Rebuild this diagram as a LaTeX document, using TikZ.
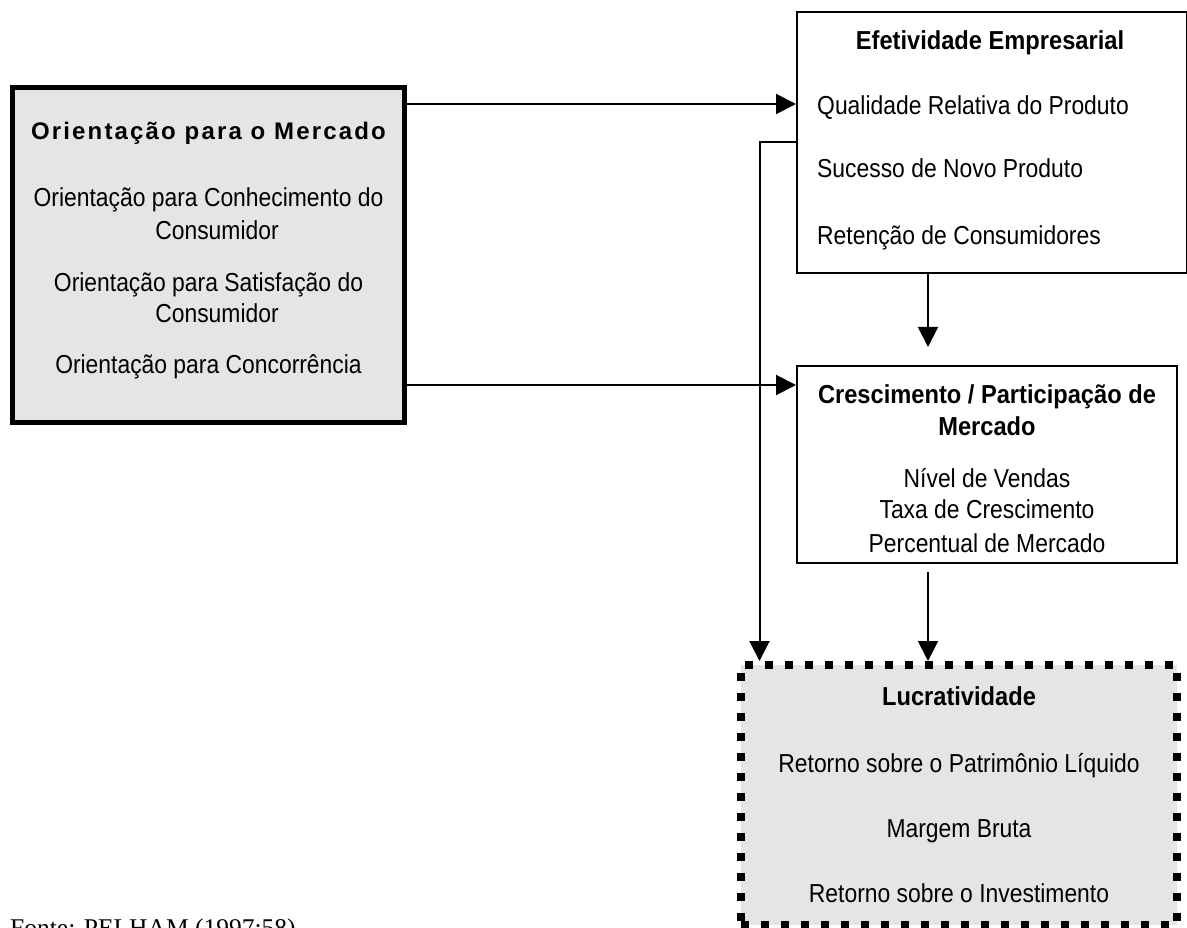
\documentclass[tikz,border=0pt]{standalone}
\usepackage{fontspec}
\setmainfont{Liberation Sans}
\newfontfamily\nar{Liberation Sans}[FakeStretch=0.88]
\newfontfamily\narb{Liberation Sans Bold}[FakeStretch=0.91]
\newfontfamily\spaced{Liberation Sans Bold}[LetterSpace=9]
\newfontfamily\tms{Liberation Serif}
\usetikzlibrary{arrows.meta}
\begin{document}
\begin{tikzpicture}[x=1pt,y=-1pt,
  txt/.style={inner sep=0pt, anchor=base, font=\nar\fontsize{26}{30}\selectfont},
  ltxt/.style={txt, anchor=base west},
  ttl/.style={txt, font=\narb\fontsize{26}{30}\selectfont},
  boxthick/.style={draw, line width=5pt, fill=black!10, inner sep=0pt},
  boxthin/.style={draw, line width=2pt, fill=white, inner sep=0pt},
  boxdash/.style={draw, line width=8pt, dash pattern=on 8pt off 12pt, fill=black!10, inner sep=0pt},
  arr/.style={line width=2pt, -{Triangle[length=20pt,width=20pt]}},
]
\useasboundingbox (0,0) rectangle (1187,928);

% boxes
\node[boxthick, minimum width=392pt, minimum height=335pt] (L) at (208.5,255) {};
\node[boxthin, minimum width=390pt, minimum height=261pt] (E) at (992,142.5) {};
\node[boxthin, minimum width=380pt, minimum height=197pt] (C) at (987,464.5) {};
\node[boxdash, minimum width=436pt, minimum height=260pt] (P) at (959,795) {};

% left box text
\node[txt, font=\spaced\fontsize{24}{28}\selectfont] (Lt) at (208.5,140) {Orientação para o Mercado};
\node[txt] (L1) at (208.5,207) {Orientação para Conhecimento do};
\node[txt] (L2) at (217,240) {Consumidor};
\node[txt] (L3) at (208.5,292) {Orientação para Satisfação do};
\node[txt] (L4) at (217,323) {Consumidor};
\node[txt] (L5) at (208.5,373) {Orientação para Concorrência};

% Efetividade
\node[ttl] (Et) at (990,50) {Efetividade Empresarial};
\node[ltxt] (E1) at (817,115) {Qualidade Relativa do Produto};
\node[ltxt] (E2) at (817,178) {Sucesso de Novo Produto};
\node[ltxt] (E3) at (817,245) {Retenção de Consumidores};

% Crescimento
\node[ttl] (Ct1) at (987,403) {Crescimento / Participação de};
\node[ttl] (Ct2) at (987,435) {Mercado};
\node[txt] (C1) at (987,487) {Nível de Vendas};
\node[txt] (C2) at (987,518) {Taxa de Crescimento};
\node[txt] (C3) at (987,552) {Percentual de Mercado};

% Lucratividade
\node[ttl] (Pt) at (959,705) {Lucratividade};
\node[txt] (P1) at (959,772) {Retorno sobre o Patrimônio Líquido};
\node[txt] (P2) at (959,837) {Margem Bruta};
\node[txt] (P3) at (959,902) {Retorno sobre o Investimento};

% source
\node[inner sep=0pt, anchor=base west, font=\tms\fontsize{25.5}{30}\selectfont] (F) at (10,936) {Fonte: PELHAM (1997:58)};

% connectors
\coordinate (a1) at (0,104);
\coordinate (a2) at (0,385);
\coordinate (j) at (759.5,142);
\coordinate (t1) at (928,347);
\coordinate (s3) at (928,572);
\draw[arr] (L.east |- a1) -- (E.west |- a1);
\draw[arr] (L.east |- a2) -- (C.west |- a2);
\draw[arr] (E.west |- j) -- (j) -- (P.north -| j);
\draw[arr] (E.south -| t1) -- (t1);
\draw[arr] (s3) -- (P.north -| s3);
\end{tikzpicture}
\end{document}
